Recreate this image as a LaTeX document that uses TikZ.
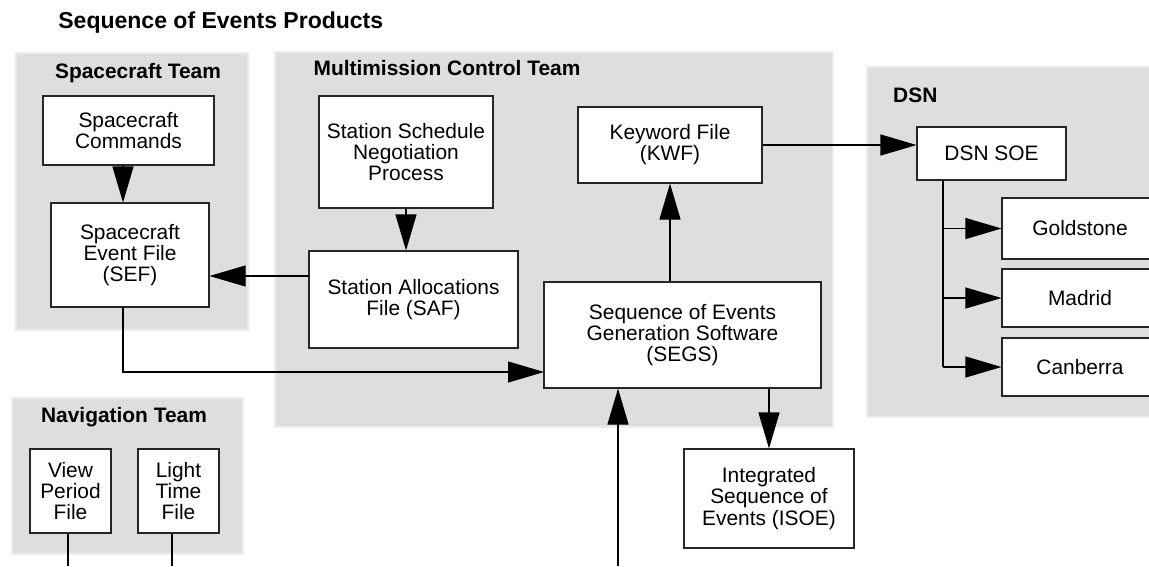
\documentclass[tikz,border=0pt]{standalone}
\usepackage{fontspec}
\setmainfont{Liberation Sans}
\usepackage{xcolor}
\usetikzlibrary{arrows.meta}

\definecolor{panelgray}{HTML}{DEDEDE}

\begin{document}
\begin{tikzpicture}[x=0.02cm, y=-0.02cm,
  txt/.style={font=\fontsize{11.9}{12}\selectfont},
  ttl/.style={font=\fontsize{11.9}{12}\selectfont\bfseries},
  panel/.style={fill=panelgray, draw=white!93!black, line width=0.6pt},
  box/.style 2 args={txt, draw=black!85, fill=white, line width=0.6pt, align=center,
    inner sep=0pt, minimum width=#1*0.02cm, minimum height=#2*0.02cm},
  arr/.style={line width=0.6pt, -{Triangle[length=0.72cm, width=0.42cm]}},
  ln/.style={line width=0.6pt}]
\useasboundingbox (0,0) rectangle (1149,566);

% Title
\node[font=\fontsize{13.1}{14}\selectfont\bfseries, anchor=base west, inner sep=0pt]
  (title) at (58,28) {Sequence of Events Products};

% Team panels
\draw[panel] (16,53) rectangle (248,330);
\draw[panel] (275,52) rectangle (833,427);
\draw[panel] (867,67) rectangle (1170,417);
\draw[panel] (12,398) rectangle (243,554);
\node[ttl] (sctitle) at (138,73) {Spacecraft Team};
\node[ttl] (mctitle) at (447,68) {Multimission Control Team};
\node[ttl, anchor=west] (dsntitle) at (887,95) {DSN};
\node[ttl] (navtitle) at (124,417) {Navigation Team};

% Spacecraft Team
\node[box={171}{69}] (cmd) at (128.5,130.5) {Spacecraft\\Commands};
\node[box={158}{104}] (sef) at (130,255) {Spacecraft\\Event File\\(SEF)};

% Multimission Control Team
\node[box={174}{112}] (sched) at (406,152) {Station Schedule\\Negotiation\\Process};
\node[box={209}{97}] (saf) at (413.5,299.5) {Station Allocations\\File (SAF)};
\node[box={184}{76}] (kwf) at (670,145) {Keyword File\\(KWF)};
\node[box={277}{106}] (segs) at (682.5,335) {Sequence of Events\\Generation Software\\(SEGS)};
\node[box={170}{99}] (isoe) at (769,498.5) {Integrated\\Sequence of\\Events (ISOE)};

% DSN
\node[box={149}{53}] (dsnsoe) at (991.5,153.5) {DSN SOE};
\node[box={156}{61}] (gold) at (1080,228.5) {Goldstone};
\node[box={156}{58}] (madrid) at (1080,298) {Madrid};
\node[box={156}{58}] (canb) at (1080,367) {Canberra};

% Navigation Team
\node[box={81}{84}] (vpf) at (70.5,491) {View\\Period\\File};
\node[box={81}{84}] (ltf) at (178.5,491) {Light\\Time\\File};

% Free ends
\coordinate (cmdout) at (123,165);
\coordinate (sefout) at (123,307);
\coordinate (segsin) at (544,372);
\coordinate (safout) at (309,276);
\coordinate (feedin) at (618,566);
\coordinate (trunk) at (943,180);
\coordinate (vpfout) at (68,566);
\coordinate (ltfout) at (172,566);

% Connectors
\draw[arr] (cmdout) -- (cmdout |- sef.north);
\draw[arr] (sched.south) -- (sched.south |- saf.north);
\draw[arr] (safout) -- (safout -| sef.east);
\draw[arr] (sefout) |- (segsin);
\draw[arr] (kwf.south |- segs.north) -- (kwf.south);
\draw[arr] (kwf.east) -- (kwf.east -| dsnsoe.west);
\draw[arr] (isoe.north |- segs.south) -- (isoe.north);
\draw[arr] (feedin) -- (feedin |- segs.south);

% DSN distribution
\draw[ln] (trunk) -- (trunk |- canb.west);
\draw[arr] (trunk |- gold.west) -- (gold.west);
\draw[arr] (trunk |- madrid.west) -- (madrid.west);
\draw[arr] (trunk |- canb.west) -- (canb.west);

% Navigation outputs
\draw[ln] (vpfout |- vpf.south) -- (vpfout);
\draw[ln] (ltfout |- ltf.south) -- (ltfout);

\end{tikzpicture}
\end{document}
